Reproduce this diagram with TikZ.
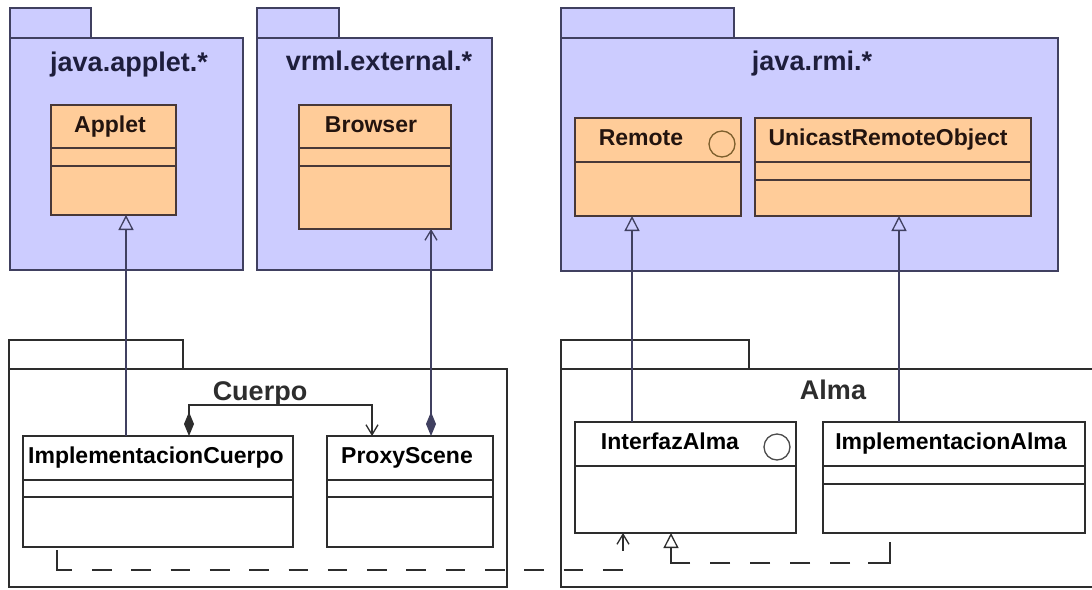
\documentclass[tikz,border=0pt]{standalone}
\usepackage{fontspec}
\setmainfont{Liberation Sans}
\usetikzlibrary{arrows.meta,calc}
\definecolor{pkgfill}{RGB}{204,204,255}
\definecolor{pkgline}{RGB}{64,64,96}
\definecolor{clsfill}{RGB}{255,204,153}
\definecolor{clsline}{RGB}{72,56,56}
\definecolor{ink}{RGB}{30,30,60}
\definecolor{clsink}{RGB}{35,20,15}
\definecolor{plain}{RGB}{45,45,45}
\definecolor{iconbrown}{RGB}{125,95,45}
\begin{document}
\begin{tikzpicture}[x=1pt,y=-1pt,
  box/.style={inner sep=0pt, outer sep=0pt, anchor=north west, line width=1.6pt},
  pkgtop/.style={box, draw=pkgline, fill=pkgfill},
  pkgbot/.style={box, draw=plain, fill=white},
  clstop/.style={box, draw=clsline, fill=clsfill},
  clsbot/.style={box, draw=plain, fill=white},
  ptitle/.style={font=\bfseries\fontsize{27}{27}\selectfont, inner sep=0pt, anchor=base},
  cname/.style={font=\bfseries\fontsize{23}{23}\selectfont, inner sep=0pt, anchor=base},
  divtop/.style={draw=clsline, line width=1.4pt},
  divbot/.style={draw=plain, line width=1.4pt},
  icon/.style={draw, circle, line width=1.3pt, minimum size=26pt, inner sep=0pt},
  conn/.style={line width=1.4pt},
  gen/.style={conn, -{Triangle[open, length=15pt, width=15pt, line width=1.3pt]}},
  nav/.style={conn, -{Straight Barb[length=10pt, width=12pt, line width=1.3pt]}},
  compnav/.style={conn, {Diamond[length=24pt, width=10pt]}-{Straight Barb[length=10pt, width=12pt, line width=1.3pt]}},
  depA/.style={dash pattern=on 35pt off 20pt on 19.65pt off 19.65pt on 19.65pt off 19.65pt on 19.65pt off 19.65pt on 19.65pt off 19.65pt on 19.65pt off 19.65pt on 19.65pt off 19.65pt on 19.65pt off 19.65pt on 19.65pt off 19.65pt on 19.65pt off 19.65pt on 19.65pt off 19.65pt on 19.65pt off 19.65pt on 19.65pt off 19.65pt on 19.65pt off 19.65pt on 19.65pt off 19.65pt on 60pt off 10pt},
  depB/.style={dash pattern=on 43pt off 18pt on 20pt off 20pt on 20pt off 20pt on 20pt off 20pt on 20pt off 20pt on 60pt off 10pt}
]
\useasboundingbox (0,0) rectangle (1092,589);
\clip (0,0) rectangle (1092,589);
\fill[white] (0,0) rectangle (1092,589);

% ---------- top packages ----------
\node[pkgtop, minimum width=81pt, minimum height=30pt] (p1tab) at (10,8) {};
\node[pkgtop, minimum width=233pt, minimum height=232pt] (p1) at (10,38) {};
\node[ptitle, text=ink] (p1t) at (129,71) {java.applet.*};

\node[pkgtop, minimum width=82pt, minimum height=30pt] (p2tab) at (257,8) {};
\node[pkgtop, minimum width=235pt, minimum height=232pt] (p2) at (257,38) {};
\node[ptitle, text=ink] (p2t) at (379,70) {vrml.external.*};

\node[pkgtop, minimum width=173pt, minimum height=30pt] (p3tab) at (561,8) {};
\node[pkgtop, minimum width=497pt, minimum height=233pt] (p3) at (561,38) {};
\node[ptitle, text=ink] (p3t) at (812,70) {java.rmi.*};

% ---------- bottom packages ----------
\node[pkgbot, minimum width=174pt, minimum height=29pt] (p4tab) at (9,340) {};
\node[pkgbot, minimum width=498pt, minimum height=218pt] (p4) at (9,369) {};
\node[ptitle, text=plain] (p4t) at (260,400) {Cuerpo};

\node[pkgbot, minimum width=188pt, minimum height=29pt] (p5tab) at (561,340) {};
\node[pkgbot, minimum width=560pt, minimum height=218pt] (p5) at (561,369) {};
\node[ptitle, text=plain] (p5t) at (833,399) {Alma};

% ---------- classes (top) ----------
\node[clstop, minimum width=125pt, minimum height=110pt] (applet) at (51,105) {};
\node[cname, text=clsink] (appletn) at (110,132) {Applet};
\draw[divtop] ($(applet.north west)+(0,43)$) -- ($(applet.north east)+(0,43)$);
\draw[divtop] ($(applet.north west)+(0,61)$) -- ($(applet.north east)+(0,61)$);

\node[clstop, minimum width=152pt, minimum height=124pt] (browser) at (299,105) {};
\node[cname, text=clsink] (browsern) at (371,132) {Browser};
\draw[divtop] ($(browser.north west)+(0,43)$) -- ($(browser.north east)+(0,43)$);
\draw[divtop] ($(browser.north west)+(0,61)$) -- ($(browser.north east)+(0,61)$);

\node[clstop, minimum width=166pt, minimum height=98pt] (remote) at (575,118) {};
\node[cname, text=clsink] (remoten) at (641,145) {Remote};
\node[icon, draw=iconbrown] (remoteicon) at (722,144) {};
\draw[divtop] ($(remote.north west)+(0,44)$) -- ($(remote.north east)+(0,44)$);

\node[clstop, minimum width=276pt, minimum height=98pt] (unicast) at (755,118) {};
\node[cname, text=clsink] (unicastn) at (888,145) {UnicastRemoteObject};
\draw[divtop] ($(unicast.north west)+(0,44)$) -- ($(unicast.north east)+(0,44)$);
\draw[divtop] ($(unicast.north west)+(0,62)$) -- ($(unicast.north east)+(0,62)$);

% ---------- classes (bottom) ----------
\node[clsbot, minimum width=270pt, minimum height=111pt] (implcuerpo) at (23,436) {};
\node[cname, text=black] (implcuerpon) at (156,463) {ImplementacionCuerpo};
\draw[divbot] ($(implcuerpo.north west)+(0,44)$) -- ($(implcuerpo.north east)+(0,44)$);
\draw[divbot] ($(implcuerpo.north west)+(0,61)$) -- ($(implcuerpo.north east)+(0,61)$);

\node[clsbot, minimum width=166pt, minimum height=111pt] (proxy) at (327,436) {};
\node[cname, text=black] (proxyn) at (407,463) {ProxyScene};
\draw[divbot] ($(proxy.north west)+(0,44)$) -- ($(proxy.north east)+(0,44)$);
\draw[divbot] ($(proxy.north west)+(0,61)$) -- ($(proxy.north east)+(0,61)$);

\node[clsbot, minimum width=221pt, minimum height=111pt] (interfaz) at (575,422) {};
\node[cname, text=black] (interfazn) at (670,449) {InterfazAlma};
\node[icon, draw=plain!85] (interfazicon) at (777,447) {};
\draw[divbot] ($(interfaz.north west)+(0,44)$) -- ($(interfaz.north east)+(0,44)$);

\node[clsbot, minimum width=262pt, minimum height=111pt] (implalma) at (823,422) {};
\node[cname, text=black] (implalman) at (951,449) {ImplementacionAlma};
\draw[divbot] ($(implalma.north west)+(0,44)$) -- ($(implalma.north east)+(0,44)$);
\draw[divbot] ($(implalma.north west)+(0,62)$) -- ($(implalma.north east)+(0,62)$);

% ---------- connectors ----------
\draw[gen, draw=pkgline] (implcuerpo.north -| 126,0) -- (applet.south -| 126,0);
\draw[compnav, draw=pkgline] (proxy.north -| 431,0) -- (browser.south -| 431,0);
\draw[compnav, draw=plain] (implcuerpo.north -| 189,0) -- (189,405) -- (372,405) -- (proxy.north -| 372,0);
\draw[gen, draw=pkgline] (interfaz.north -| 632,0) -- (remote.south -| 632,0);
\draw[gen, draw=pkgline] (implalma.north -| 899,0) -- (unicast.south -| 899,0);

\coordinate (d1) at ($(implcuerpo.south -| 57,0)+(0,3)$);
\draw[nav, depA, draw=plain] (d1) |- (623,570) -- (interfaz.south -| 623,0);
\coordinate (d2) at ($(implalma.south -| 890,0)+(0,9)$);
\draw[gen, depB, draw=plain] (d2) |- (671,563) -- (interfaz.south -| 671,0);
\end{tikzpicture}
\end{document}
